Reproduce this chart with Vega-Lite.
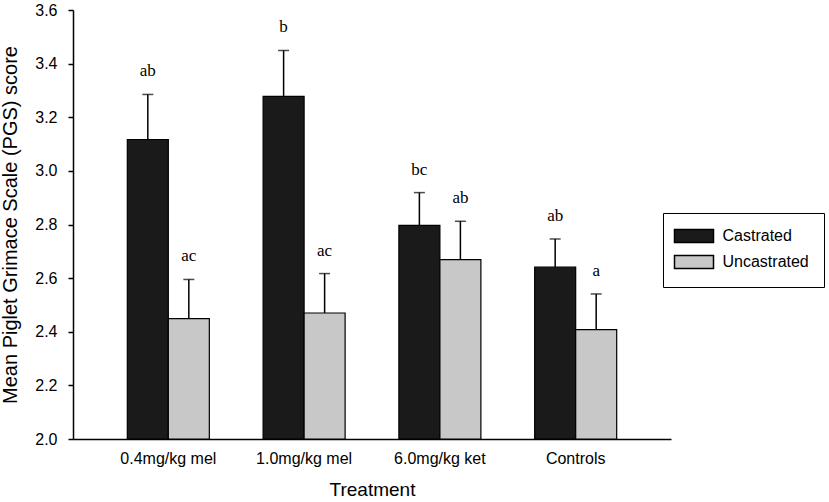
{
  "$schema": "https://vega.github.io/schema/vega-lite/v6.json",
  "autosize": "none",
  "padding": {"left": 73, "top": 10, "right": 158, "bottom": 63},
  "width": 598,
  "height": 429,
  "background": "white",
  "config": {
    "view": {"stroke": null},
    "font": "Liberation Sans",
    "axis": {"labelColor": "black", "titleColor": "black", "domainColor": "black", "tickColor": "black", "labelFont": "Liberation Sans", "titleFont": "Liberation Sans", "titleFontWeight": "normal", "grid": false}
  },
  "data": {
    "values": [
      {"treatment": "0.4mg/kg mel", "group": "Castrated", "mean": 3.117, "upper": 3.285, "label": "ab"},
      {"treatment": "0.4mg/kg mel", "group": "Uncastrated", "mean": 2.449, "upper": 2.595, "label": "ac"},
      {"treatment": "1.0mg/kg mel", "group": "Castrated", "mean": 3.278, "upper": 3.449, "label": "b"},
      {"treatment": "1.0mg/kg mel", "group": "Uncastrated", "mean": 2.470, "upper": 2.617, "label": "ac"},
      {"treatment": "6.0mg/kg ket", "group": "Castrated", "mean": 2.797, "upper": 2.919, "label": "bc"},
      {"treatment": "6.0mg/kg ket", "group": "Uncastrated", "mean": 2.669, "upper": 2.812, "label": "ab"},
      {"treatment": "Controls", "group": "Castrated", "mean": 2.641, "upper": 2.746, "label": "ab"},
      {"treatment": "Controls", "group": "Uncastrated", "mean": 2.408, "upper": 2.541, "label": "a"}
    ]
  },
  "encoding": {
    "x": {
      "field": "treatment", "type": "nominal", "sort": null,
      "scale": {"paddingInner": 0.396, "paddingOuter": 0.4},
      "axis": {"title": "Treatment", "labelAngle": 0, "ticks": false, "tickSize": 0, "labelFontSize": 16, "labelPadding": 11, "titleFontSize": 19, "titleY": 41, "titleBaseline": "top", "domainWidth": 1.5}
    },
    "xOffset": {"field": "group", "type": "nominal", "sort": ["Castrated", "Uncastrated"], "scale": {"paddingInner": 0, "paddingOuter": 0}}
  },
  "layer": [
    {
      "mark": {"type": "bar", "stroke": "black", "strokeWidth": 1.2},
      "encoding": {
        "y": {
          "field": "mean", "type": "quantitative",
          "scale": {"domain": [2.0, 3.6], "zero": false, "nice": false},
          "axis": {"title": "Mean Piglet Grimace Scale (PGS) score", "values": [2.0, 2.2, 2.4, 2.6, 2.8, 3.0, 3.2, 3.4, 3.6], "format": ".1f", "tickSize": 5, "labelFontSize": 16, "labelPadding": 11, "titleFontSize": 20, "titleX": -57, "titleBaseline": "alphabetic", "domainWidth": 1.5, "tickWidth": 1.5}
        },
        "y2": {"datum": 2.0},
        "color": {
          "field": "group", "type": "nominal",
          "scale": {"domain": ["Castrated", "Uncastrated"], "range": ["#1a1a1a", "#c8c8c8"]},
          "legend": {
            "title": null, "orient": "none", "legendX": 590, "legendY": 203,
            "symbolType": "M-3,-1H3V1H-3Z", "symbolSize": 169, "symbolStrokeColor": "black", "symbolStrokeWidth": 1.5, "symbolOpacity": 1,
            "symbolOffset": 8, "labelOffset": 20.5, "labelFontSize": 16, "labelFont": "Liberation Sans", "labelColor": "black",
            "padding": 15, "rowPadding": 6, "strokeColor": "black", "fillColor": "white"
          }
        }
      }
    },
    {
      "mark": {"type": "rule", "color": "black", "strokeWidth": 1.5},
      "encoding": {
        "y": {"field": "mean", "type": "quantitative"},
        "y2": {"field": "upper"}
      }
    },
    {
      "mark": {"type": "tick", "color": "black", "size": 11, "thickness": 1.5, "orient": "horizontal"},
      "encoding": {
        "y": {"field": "upper", "type": "quantitative"}
      }
    },
    {
      "mark": {"type": "text", "font": "Liberation Serif", "fontSize": 17, "color": "black", "baseline": "alphabetic", "dy": -18},
      "encoding": {
        "y": {"field": "upper", "type": "quantitative"},
        "text": {"field": "label"}
      }
    }
  ]
}
